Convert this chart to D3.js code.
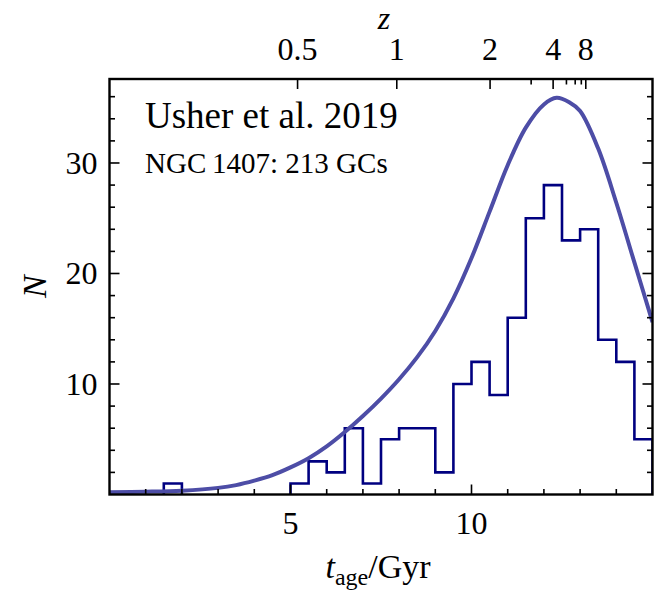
<!DOCTYPE html>
<html>
<head>
<meta charset="utf-8">
<script src="https://cdn.jsdelivr.net/npm/d3@7"></script>
<style>
  html, body { margin: 0; padding: 0; background: #fff; }
  svg text { font-family: "Liberation Serif", "Times New Roman", serif; fill: #000; }
</style>
</head>
<body>
<svg id="chart" width="671" height="592"></svg>
<script>
// ---------- data ----------
const binEdgesLeft = [1.5, 5, 5.5, 6, 6.5, 7, 7.5, 8, 8.5, 9, 9.5, 10, 10.5, 11, 11.5, 12, 12.5, 13, 13.5, 14, 14.5];
const binCounts    = [1,   1, 3,   2, 6,   1, 5,   6, 6,   2, 10,  12, 9,    16, 25,   28, 23,   24, 14,   12, 5];
const binWidth = 0.5;

const curveAge = [0, 1, 2, 3, 3.5, 4, 4.5, 5, 5.5, 6, 6.5, 7, 7.5, 8, 8.5, 9, 9.5, 10, 10.5, 11, 11.5, 12, 12.35, 12.7, 13, 13.5, 14, 14.5, 15];
const curveN   = [0.2, 0.25, 0.35, 0.6, 0.85, 1.25, 1.75, 2.45, 3.28, 4.35, 5.65, 7.1, 8.68, 10.43, 12.43, 14.8, 17.75, 21.4, 25.6, 29.8, 33.2, 35.3, 35.9, 35.5, 34.7, 31.3, 26.4, 21.0, 15.6];

const xMajorTicks = [5, 10];
const xMinorTicks = [1, 2, 3, 4, 6, 7, 8, 9, 11, 12, 13, 14];
const yMajorTicks = [10, 20, 30];
const yMinorTicks = [2, 4, 6, 8, 12, 14, 16, 18, 22, 24, 26, 28, 32, 34, 36];
const zMajorTicks = [0.5, 1, 2, 4, 8];
const zMinorTicks = [3, 5, 6, 7];

const labelLine1 = "Usher et al. 2019";
const labelLine2 = "NGC\u20091407: 213 GCs";

// ---------- cosmology for the redshift axis (flat LCDM) ----------
const H0 = 67.7, Om = 0.31;
function lookback(z) {
  const hubbleTime = 977.8 / H0; // Gyr
  const n = 2000;
  let s = 0;
  for (let i = 0; i < n; i++) {
    const zz = (i + 0.5) * z / n;
    const E = Math.sqrt(Om * Math.pow(1 + zz, 3) + (1 - Om));
    s += 1 / ((1 + zz) * E);
  }
  return hubbleTime * s * z / n;
}

// ---------- layout ----------
const svg = d3.select("#chart");
const L = 109.5, R = 652.5, T = 79, B = 494.5;

const x = d3.scaleLinear().domain([0, 15]).range([L, R]);
const y = d3.scaleLinear().domain([0, 37.6]).range([B, T]);

const ink = "#000";
const majorLen = 10, minorLen = 5.5;

svg.append("clipPath").attr("id", "plotclip")
  .append("rect").attr("x", L).attr("y", T).attr("width", R - L).attr("height", B - T);

// ---------- histogram (step outline) ----------
const plotG = svg.append("g").attr("clip-path", "url(#plotclip)");
function stepPath(lefts, counts) {
  let d = "";
  let i = 0;
  while (i < lefts.length) {
    let j = i;
    while (j + 1 < lefts.length && Math.abs(lefts[j + 1] - (lefts[j] + binWidth)) < 1e-9) j++;
    d += "M" + x(lefts[i]) + "," + y(0);
    for (let k = i; k <= j; k++) {
      d += "L" + x(lefts[k]) + "," + y(counts[k]);
      d += "L" + x(lefts[k] + binWidth) + "," + y(counts[k]);
    }
    d += "L" + x(lefts[j] + binWidth) + "," + y(0);
    i = j + 1;
  }
  return d;
}
plotG.append("path")
  .attr("d", stepPath(binEdgesLeft, binCounts))
  .attr("fill", "none")
  .attr("stroke", "#000080")
  .attr("stroke-width", 2.6)
  .attr("stroke-linejoin", "miter");

// ---------- smooth curve ----------
const line = d3.line()
  .x((d, i) => x(curveAge[i]))
  .y((d, i) => y(curveN[i]))
  .curve(d3.curveCatmullRom.alpha(0.5));
plotG.append("path")
  .datum(curveN)
  .attr("d", line)
  .attr("fill", "none")
  .attr("stroke", "#4d4da6")
  .attr("stroke-width", 4)
  .attr("stroke-linecap", "butt");

// ---------- ticks ----------
const tickG = svg.append("g").attr("stroke", ink).attr("stroke-width", 1.6);
xMajorTicks.forEach(v => tickG.append("line").attr("x1", x(v)).attr("x2", x(v)).attr("y1", B).attr("y2", B - majorLen));
xMinorTicks.forEach(v => tickG.append("line").attr("x1", x(v)).attr("x2", x(v)).attr("y1", B).attr("y2", B - minorLen));
yMajorTicks.forEach(v => {
  tickG.append("line").attr("x1", L).attr("x2", L + majorLen).attr("y1", y(v)).attr("y2", y(v));
  tickG.append("line").attr("x1", R).attr("x2", R - majorLen).attr("y1", y(v)).attr("y2", y(v));
});
yMinorTicks.forEach(v => {
  tickG.append("line").attr("x1", L).attr("x2", L + minorLen).attr("y1", y(v)).attr("y2", y(v));
  tickG.append("line").attr("x1", R).attr("x2", R - minorLen).attr("y1", y(v)).attr("y2", y(v));
});
zMajorTicks.forEach(z => { const xx = x(lookback(z)); tickG.append("line").attr("x1", xx).attr("x2", xx).attr("y1", T).attr("y2", T + majorLen); });
zMinorTicks.forEach(z => { const xx = x(lookback(z)); tickG.append("line").attr("x1", xx).attr("x2", xx).attr("y1", T).attr("y2", T + minorLen); });

// ---------- frame ----------
svg.append("rect").attr("x", L).attr("y", T).attr("width", R - L).attr("height", B - T)
  .attr("fill", "none").attr("stroke", ink).attr("stroke-width", 2.4);

// ---------- tick labels ----------
const fs = 32;
xMajorTicks.forEach(v => svg.append("text").attr("x", x(v)).attr("y", B + 39)
  .attr("text-anchor", "middle").attr("font-size", fs).text(v));
yMajorTicks.forEach(v => svg.append("text").attr("x", L - 12).attr("y", y(v)).attr("dy", "0.34em")
  .attr("text-anchor", "end").attr("font-size", fs).text(v));
zMajorTicks.forEach(z => svg.append("text").attr("x", x(lookback(z))).attr("y", T - 19)
  .attr("text-anchor", "middle").attr("font-size", fs).text(z));

// ---------- axis labels ----------
const xl = svg.append("text").attr("x", 378).attr("y", 578).attr("text-anchor", "middle").attr("font-size", 34);
xl.append("tspan").attr("font-style", "italic").text("t");
xl.append("tspan").attr("font-size", 24).attr("dy", 7).text("age");
xl.append("tspan").attr("dy", -7).text("/Gyr");

svg.append("text").attr("transform", `translate(46,${(T + B) / 2}) rotate(-90)`)
  .attr("text-anchor", "middle").attr("font-size", 34).attr("font-style", "italic").text("N");

svg.append("text").attr("x", 384).attr("y", 29)
  .attr("text-anchor", "middle").attr("font-size", 32).attr("font-style", "italic").text("z");

// ---------- annotation ----------
svg.append("text").attr("x", 145).attr("y", 128).attr("font-size", 37).text(labelLine1);
svg.append("text").attr("x", 145).attr("y", 173).attr("font-size", 29).text(labelLine2);
</script>
</body>
</html>
